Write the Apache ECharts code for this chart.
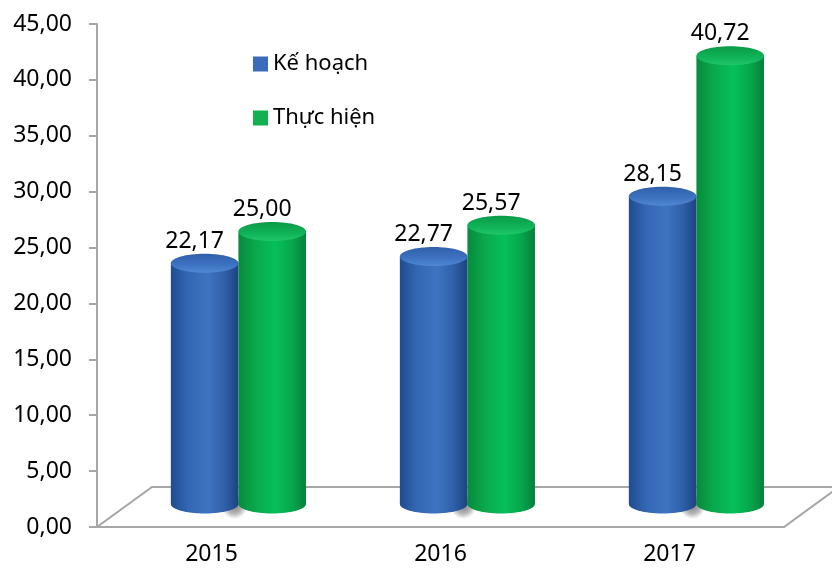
<!DOCTYPE html>
<html>
<head>
<meta charset="utf-8">
<script src="https://cdn.jsdelivr.net/npm/echarts@6/dist/echarts.min.js"></script>
<style>
  html, body { margin: 0; padding: 0; background: #fff; }
  #chart { width: 832px; height: 572px; }
</style>
</head>
<body>
<div id="chart"></div>
<script>
const years = ["2015", "2016", "2017"]
const keHoach = [22.17, 22.77, 28.15] // Kế hoạch
const thucHien = [25.0, 25.57, 40.72] // Thực hiện
const yTicks = { min: 0, max: 45, step: 5 }

const FONT = "'Noto Sans', 'Open Sans', sans-serif"
const LIFT_TOP = 16 // bars stand in the middle of the floor
const LIFT_BASE = 23
const DEPTH = [55, 40] // floor depth offset (x, y)

const fmt = (v) => v.toFixed(2).replace(".", ",")

const palette = {
  blue: {
    legend: "#3a6cba",
    body: ["#1f4c90", "#3366b3", "#3f74c2", "#2f5fa8", "#1c4280"],
    top: ["#2f60aa", "#3e73c2", "#5088d4"]
  },
  green: {
    legend: "#12b050",
    body: ["#078a3c", "#0aa84c", "#05c05a", "#06a64b", "#06803a"],
    top: ["#0a9a48", "#10b458", "#22c76a"]
  }
}

function hGrad(c) {
  return new echarts.graphic.LinearGradient(0, 0, 1, 0, [
    { offset: 0, color: c[0] },
    { offset: 0.25, color: c[1] },
    { offset: 0.55, color: c[2] },
    { offset: 0.8, color: c[3] },
    { offset: 1, color: c[4] }
  ])
}

// cylinder renderer; shift = horizontal offset in band widths
function cylinder(colors, shift, z, withShadow) {
  return function (params, api) {
    const band = api.size([1, 0])[0]
    const v = api.value(1)
    const base = api.coord([api.value(0), 0])
    const top = api.coord([api.value(0), v])
    const w = band * 0.295
    const cx = base[0] + band * shift
    const yb = base[1] - LIFT_BASE
    const yt = top[1] - LIFT_TOP
    const ry = 9.5
    const body = hGrad(colors.body)
    const children = []
    if (withShadow) {
      // soft shadow under the pair of cylinders
      children.push({
        type: "ellipse",
        z2: -5,
        shape: { cx: base[0] + band * 0.1, cy: yb + 2, rx: band * 0.36, ry: 13 },
        style: {
          fill: new echarts.graphic.RadialGradient(0.5, 0.5, 0.5, [
            { offset: 0, color: "rgba(0,0,0,0.5)" },
            { offset: 0.6, color: "rgba(0,0,0,0.28)" },
            { offset: 1, color: "rgba(0,0,0,0)" }
          ])
        }
      })
    }
    children.push(
      {
        type: "ellipse",
        z2: z,
        shape: { cx, cy: yb, rx: w / 2, ry },
        style: { fill: body }
      },
      {
        type: "rect",
        z2: z,
        shape: { x: cx - w / 2, y: yt, width: w, height: yb - yt },
        style: { fill: body }
      },
      {
        type: "ellipse",
        z2: z + 1,
        shape: { cx, cy: yt, rx: w / 2, ry },
        style: {
          fill: new echarts.graphic.LinearGradient(0, 0, 0, 1, [
            { offset: 0, color: colors.top[0] },
            { offset: 0.6, color: colors.top[1] },
            { offset: 1, color: colors.top[2] }
          ])
        }
      },
      {
        type: "text",
        z2: 50,
        style: {
          text: fmt(v),
          x: cx - 10,
          y: yt - ry - 1,
          align: "center",
          verticalAlign: "bottom",
          font: "23px " + FONT,
          fill: "#000"
        }
      }
    )
    return { type: "group", children }
  }
}

function floor(params, api) {
  const cs = params.coordSys
  const x0 = cs.x
  const x1 = cs.x + cs.width
  const y0 = cs.y + cs.height
  return {
    type: "polygon",
    z2: -20,
    shape: {
      points: [
        [x0, y0],
        [x1, y0],
        [x1 + DEPTH[0], y0 - DEPTH[1]],
        [x0 + DEPTH[0], y0 - DEPTH[1]]
      ]
    },
    style: { fill: "#ffffff", stroke: "#a6a6a6", lineWidth: 2 }
  }
}

const chart = echarts.init(document.getElementById("chart"))
chart.setOption({
  animation: false,
  backgroundColor: "#ffffff",
  grid: { left: 97, right: 48, top: 24, bottom: 45 },
  legend: {
    data: ["Kế hoạch", "Thực hiện"],
    orient: "vertical",
    left: 248,
    top: 47,
    itemGap: 30,
    itemWidth: 15,
    itemHeight: 15,
    icon: "rect",
    textStyle: { fontSize: 22, lineHeight: 24, color: "#000", fontFamily: FONT }
  },
  xAxis: {
    type: "category",
    data: years,
    axisLine: { lineStyle: { color: "#a6a6a6", width: 2 } },
    axisTick: { length: 8, lineStyle: { color: "#a6a6a6", width: 2 } },
    axisLabel: { margin: 16, fontSize: 23, color: "#000", fontFamily: FONT },
    splitLine: { show: false }
  },
  yAxis: {
    type: "value",
    min: yTicks.min,
    max: yTicks.max,
    interval: yTicks.step,
    axisLine: { show: true, lineStyle: { color: "#a6a6a6", width: 2 } },
    axisTick: { show: true, length: 8, lineStyle: { color: "#a6a6a6", width: 2 } },
    axisLabel: { margin: 25, fontSize: 23, color: "#000", fontFamily: FONT, formatter: fmt },
    splitLine: { show: false }
  },
  series: [
    {
      name: "floor",
      type: "custom",
      silent: true,
      renderItem: floor,
      data: [[0, 0]]
    },
    {
      name: "Kế hoạch",
      type: "custom",
      itemStyle: { color: palette.blue.legend },
      renderItem: cylinder(palette.blue, -0.03, 10, true),
      encode: { x: 0, y: 1 },
      data: keHoach.map((v, i) => [i, v])
    },
    {
      name: "Thực hiện",
      type: "custom",
      itemStyle: { color: palette.green.legend },
      renderItem: cylinder(palette.green, 0.265, 20, false),
      encode: { x: 0, y: 1 },
      data: thucHien.map((v, i) => [i, v])
    }
  ]
})
</script>
</body>
</html>
